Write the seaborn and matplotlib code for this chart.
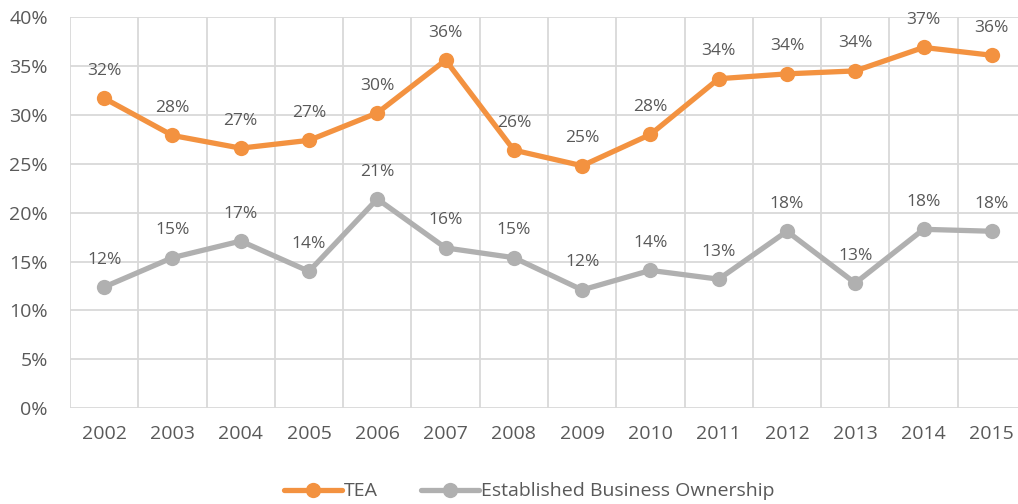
import numpy as np
import pandas as pd
import matplotlib.pyplot as plt
import seaborn as sns

years = [2002, 2003, 2004, 2005, 2006, 2007, 2008, 2009, 2010, 2011, 2012, 2013, 2014, 2015]
tea = [31.7, 27.9, 26.6, 27.4, 30.2, 35.6, 26.4, 24.8, 28.0, 33.7, 34.2, 34.5, 36.9, 36.1]
ebo = [12.4, 15.4, 17.1, 14.0, 21.4, 16.4, 15.4, 12.1, 14.1, 13.2, 18.1, 12.8, 18.3, 18.1]
series_names = ["TEA", "Established Business Ownership"]
colors = ["#F39240", "#B0B0B0"]

df = pd.DataFrame({
    "pos": list(range(len(years))) * 2,
    "value": tea + ebo,
    "series": [series_names[0]] * len(years) + [series_names[1]] * len(years),
})

sns.set_style("white")
plt.rcParams["font.family"] = ["Open Sans", "DejaVu Sans"]
txt = "#595959"
grid = "#D9D9D9"

fig = plt.figure(figsize=(10.18, 5.04), dpi=100)
ax = fig.add_axes([0.0688, 0.190, 0.939, 0.776])

sns.lineplot(data=df, x="pos", y="value", hue="series", palette=colors,
             marker="o", markersize=11, markeredgewidth=0, linewidth=3.8,
             ax=ax, legend=False)

for vals in (tea, ebo):
    for i, v in enumerate(vals):
        ax.annotate(f"{round(v):.0f}%", (i, v), xytext=(0, 14), textcoords="offset points",
                    ha="center", va="bottom", fontsize=12.5, color=txt)

ax.set_xlim(-0.5, len(years) - 0.5)
ax.set_ylim(0, 40)
ax.set_xticks(range(len(years)))
ax.set_xticklabels([str(y) for y in years])
ax.set_xticks(np.arange(-0.5, len(years), 1), minor=True)
ax.set_yticks(range(0, 41, 5))
ax.set_yticklabels([f"{t}%" for t in range(0, 41, 5)])
ax.grid(False)
ax.grid(True, which="minor", axis="x", color=grid, linewidth=1.3)
ax.grid(True, which="major", axis="y", color=grid, linewidth=1.3)
ax.set_axisbelow(True)
ax.tick_params(axis="both", which="both", length=0, labelsize=14, labelcolor=txt)
ax.tick_params(axis="x", pad=12)
ax.tick_params(axis="y", pad=16)
ax.set_xlabel("")
ax.set_ylabel("")
for s in ax.spines.values():
    s.set_visible(False)

handles = [plt.Line2D([], [], color=c, marker="o", markersize=11, markeredgewidth=0,
                      linewidth=3.8) for c in colors]
fig.legend(handles, series_names, loc="center", bbox_to_anchor=(0.52, 0.025), ncol=2,
           frameon=False, fontsize=14, labelcolor=txt, handlelength=3.0,
           handletextpad=0.1, columnspacing=2.2)

fig.savefig("out.png", dpi=100)
